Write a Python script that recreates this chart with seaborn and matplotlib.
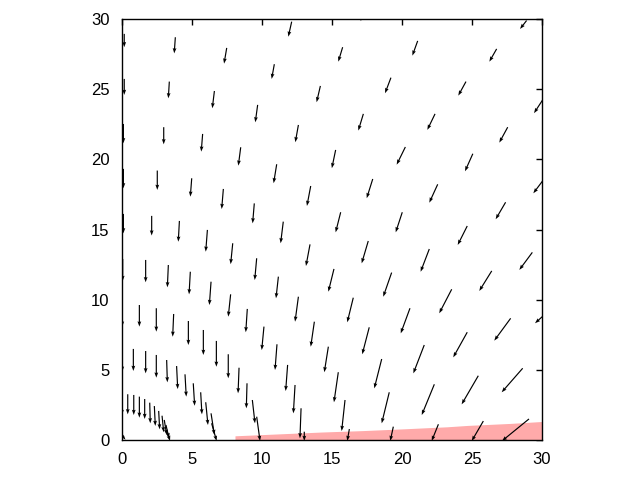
import numpy as np
import pandas as pd
import matplotlib
matplotlib.use("Agg")
import matplotlib.pyplot as plt
import seaborn as sns

# arrow tails (x, y) and heads (x, y), read arc by arc from the picture
tail_x = [
    0.00, 0.41, 0.84, 1.24, 1.62, 1.98, 2.31, 2.62, 2.86, 3.02, 3.14, 3.19,
    0.02, 0.81, 1.69, 2.45, 3.19, 3.90, 4.50, 5.09, 5.62, 5.98, 6.36, 6.40,
    0.02, 1.24, 2.45, 3.69, 4.74, 5.81, 6.74, 7.59, 8.36, 8.93, 9.31, 9.62,
    0.05, 1.69, 3.31, 4.88, 6.36, 7.76, 8.95, 10.14, 11.07, 11.83, 12.36, 12.79, 13.02,
    0.10, 2.12, 4.10, 6.10, 7.91, 9.62, 11.17, 12.60, 13.74, 14.74, 15.45, 15.93, 16.24,
    0.10, 2.52, 4.98, 7.24, 9.45, 11.52, 13.43, 15.14, 16.52, 17.66, 18.55, 19.09, 19.38,
    0.10, 2.98, 5.76, 8.48, 11.05, 13.48, 15.62, 17.59, 19.26, 20.57, 21.59, 22.31, 22.60,
    0.16, 3.38, 6.60, 9.69, 12.60, 15.26, 17.91, 20.02, 21.95, 23.55, 24.66, 25.45, 25.81,
    0.16, 3.81, 7.48, 10.88, 14.17, 17.24, 20.24, 22.55, 24.66, 26.41, 27.76, 28.62, 29.07,
    12.12, 15.76, 19.21, 22.36, 25.06, 27.40, 29.31, 30.70,
    17.35, 21.12, 24.57, 27.55, 30.45,
    26.76, 30.35,
    28.90,
    0.02,
]
tail_y = [
    3.20, 3.26, 3.21, 3.09, 2.92, 2.66, 2.42, 2.07, 1.73, 1.43, 1.07, 0.71,
    6.54, 6.49, 6.34, 6.06, 5.70, 5.27, 4.68, 4.04, 3.40, 2.69, 1.90, 1.19,
    9.74, 9.62, 9.39, 8.98, 8.48, 7.84, 7.06, 6.11, 5.15, 4.04, 2.85, 1.66,
    12.90, 12.83, 12.47, 11.99, 11.28, 10.38, 9.34, 8.08, 6.82, 5.35, 3.92, 2.26, 0.59,
    16.11, 15.97, 15.61, 14.97, 14.02, 12.95, 11.64, 10.21, 8.43, 6.65, 4.83, 2.85, 0.78,
    19.32, 19.20, 18.65, 17.89, 16.86, 15.56, 13.94, 12.19, 10.14, 8.03, 5.77, 3.40, 0.95,
    22.52, 22.29, 21.81, 20.86, 19.65, 18.10, 16.23, 14.18, 11.93, 9.39, 6.77, 3.97, 1.12,
    25.73, 25.54, 24.87, 23.88, 22.45, 20.67, 18.60, 16.23, 13.61, 10.74, 7.68, 4.58, 1.35,
    28.94, 28.70, 27.94, 26.78, 25.23, 23.24, 20.88, 18.22, 15.25, 12.05, 8.67, 5.11, 1.50,
    29.81, 27.99, 25.82, 23.24, 20.40, 16.94, 13.37, 9.40,
    30.90, 28.44, 25.54, 22.29, 19.00,
    27.87, 24.70,
    29.89,
    0.30,
]
head_x = [
    0.00, 0.41, 0.84, 1.24, 1.62, 2.02, 2.38, 2.69, 2.98, 3.19, 3.36, 3.43,
    0.02, 0.81, 1.69, 2.45, 3.24, 3.98, 4.59, 5.19, 5.71, 6.14, 6.60, 6.76,
    0.02, 1.24, 2.45, 3.62, 4.74, 5.81, 6.74, 7.59, 8.29, 8.88, 9.50, 9.86,
    0.05, 1.69, 3.24, 4.79, 6.24, 7.59, 8.84, 9.98, 10.93, 11.69, 12.24, 12.71, 13.02,
    0.10, 2.12, 4.02, 5.98, 7.76, 9.48, 11.00, 12.36, 13.48, 14.45, 15.14, 15.69, 16.09,
    0.10, 2.52, 4.88, 7.12, 9.33, 11.33, 13.14, 14.74, 16.09, 17.16, 18.02, 18.55, 19.16,
    0.10, 2.98, 5.66, 8.31, 10.83, 13.21, 15.26, 17.12, 18.66, 19.91, 20.81, 21.41, 22.12,
    0.16, 3.31, 6.45, 9.52, 12.38, 14.99, 17.48, 19.55, 21.33, 22.66, 23.66, 24.26, 24.98,
    0.16, 3.73, 7.29, 10.69, 13.90, 16.88, 19.62, 21.95, 23.98, 25.52, 26.59, 27.12, 27.14,
    11.88, 15.45, 18.79, 21.81, 24.50, 26.69, 28.38, 29.50,
    17.05, 20.74, 24.02, 26.95, 29.38,
    26.24, 29.43,
    28.43,
    0.25,
]
head_y = [
    1.78, 1.83, 1.78, 1.59, 1.50, 1.19, 1.00, 0.76, 0.55, 0.36, 0.12, -0.07,
    4.87, 4.92, 4.75, 4.44, 4.11, 3.63, 3.09, 2.44, 1.83, 1.07, 0.36, -0.07,
    8.08, 8.08, 7.72, 7.36, 6.77, 6.06, 5.22, 4.40, 3.33, 2.26, 1.19, -0.07,
    11.33, 11.24, 10.88, 10.38, 9.62, 8.79, 7.68, 6.41, 4.99, 3.49, 1.90, 0.12, -0.07,
    14.73, 14.57, 14.13, 13.42, 12.53, 11.40, 10.10, 8.43, 6.65, 4.83, 2.69, 0.64, -0.07,
    17.94, 17.82, 17.34, 16.46, 15.44, 14.02, 12.40, 10.57, 8.39, 6.11, 3.68, 1.19, -0.07,
    21.15, 21.07, 20.55, 19.55, 18.30, 16.68, 14.80, 12.59, 10.21, 7.60, 4.75, 1.78, -0.07,
    24.59, 24.35, 23.64, 22.64, 21.22, 19.37, 17.23, 14.80, 11.99, 9.03, 5.89, 2.54, -0.07,
    27.99, 27.55, 26.82, 25.73, 24.07, 22.05, 19.62, 16.91, 13.90, 10.62, 7.08, 3.40, -0.07,
    28.74, 26.96, 24.71, 22.10, 19.15, 15.73, 12.12, 8.32,
    29.85, 27.39, 24.54, 21.19, 17.58,
    26.96, 23.29,
    29.29,
    0.02,
]

# pink band along the bottom (top edge)
band_x = [8.07, 9.0, 11.3, 14.3, 17.2, 20.2, 23.2, 24.7, 27.7, 30.0]
band_top = [0.30, 0.34, 0.44, 0.57, 0.67, 0.80, 0.94, 1.04, 1.18, 1.32]

df = pd.DataFrame({"x": tail_x, "y": tail_y, "hx": head_x, "hy": head_y})
df["u"] = df["hx"] - df["x"]
df["v"] = df["hy"] - df["y"]

sns.set_theme(style="white")
plt.rcParams["font.family"] = ["Liberation Sans", "DejaVu Sans"]

fig = plt.figure(figsize=(6.4, 4.8), dpi=100)
ax = fig.add_axes([122 / 640, 40 / 480, 420 / 640, 421 / 480])

ax.fill_between(band_x, 0, band_top, color="#ffaaaa", lw=0, zorder=1)
ax.quiver(df["x"], df["y"], df["u"], df["v"], angles="xy", scale_units="xy",
          scale=1, color="black", width=0.0028, headwidth=3.2, headlength=4.5,
          headaxislength=4, zorder=3)

ax.set_xlim(0, 30)
ax.set_ylim(0, 30)
ticks = [0, 5, 10, 15, 20, 25, 30]
ax.set_xticks(ticks)
ax.set_yticks(ticks)
ax.tick_params(direction="in", length=4.5, width=1, color="black",
               top=True, right=True, labelsize=12, pad=9, labelcolor="black")
for s in ax.spines.values():
    s.set_color("black")
    s.set_linewidth(1)
ax.set_facecolor("white")

fig.savefig("out.png", dpi=100)
